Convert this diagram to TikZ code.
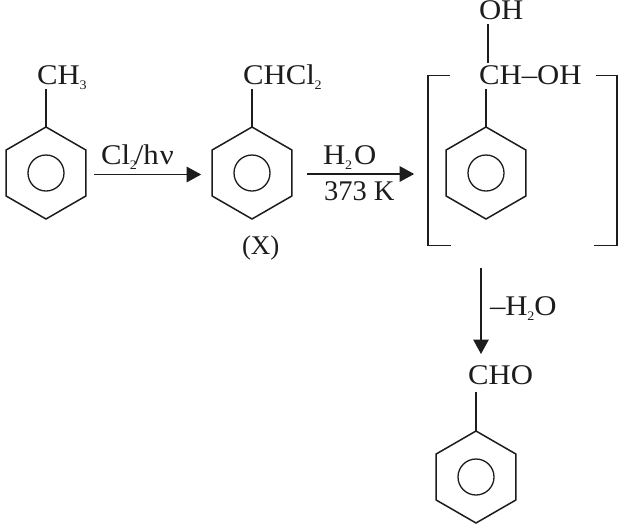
\documentclass[tikz,border=0pt]{standalone}
\usepackage{fontspec}
\setmainfont[FakeStretch=1.08]{Liberation Serif}
\newfontfamily\plainserif{Liberation Serif}
\usetikzlibrary{shapes.geometric,arrows.meta}
\definecolor{ink}{HTML}{1C1C1C}
\newcommand{\sbt}[1]{\kern-0.2pt\raisebox{-5.5pt}{\fontsize{13}{13}\selectfont #1}}
\tikzset{
  x=1pt,y=-1pt,
  ringhex/.style={regular polygon,regular polygon sides=6,shape border rotate=30,minimum size=92pt,inner sep=0pt,outer sep=0pt,draw=ink,line width=1.5pt},
  ringcirc/.style={circle,minimum size=36pt,inner sep=0pt,draw=ink,line width=1.3pt},
  chem/.style={anchor=base west,inner sep=0pt,outer sep=0pt,text=ink,text height=21pt,text depth=5pt,font=\fontsize{28.5}{30}\selectfont},
  bond/.style={draw=ink,line width=1.5pt},
  rxn/.style={draw=ink,line width=1.4pt,-{Triangle[length=14.5pt,width=15.5pt]}},
  brk/.style={draw=ink,line width=1.5pt}
}
\begin{document}
\begin{tikzpicture}
\useasboundingbox[fill=white,draw=none] (0,0) rectangle (629,523);
% rings
\node[ringhex] (r1) at (46,173) {};
\node[ringcirc] (c1) at (46,173) {};
\node[ringhex] (r2) at (252,173) {};
\node[ringcirc] (c2) at (252,173) {};
\node[ringhex] (r3) at (486,173) {};
\node[ringcirc] (c3) at (486,173) {};
\node[ringhex] (r4) at (476,477) {};
\node[ringcirc] (c4) at (476,477) {};
% labels
\node[chem] (ch3) at (37,84) {CH\sbt{3}};
\node[chem] (chcl) at (243,84) {CHCl\sbt{2}};
\node[chem] (x) at (242,254) {\plainserif\fontsize{27}{29}\selectfont(X)};
\node[chem] (cl) at (101,164) {Cl\sbt{2}\kern-2pt/h\kern1ptν};
\node[chem] (h2o) at (323,164) {H\sbt{2}\kern2ptO};
\node[chem] (k) at (324,200) {\plainserif 373 K};
\node[chem,text height=18pt] (oh) at (479,19) {OH};
\node[chem] (choh) at (479,84) {CH–OH};
\node[chem] (mh2o) at (490,315) {–H\sbt{2}O};
\node[chem] (cho) at (468,384) {CHO};
% bonds
\draw[bond] (r1.corner 1) -- (r1.corner 1 |- ch3.south);
\draw[bond] (r2.corner 1) -- (r2.corner 1 |- chcl.south);
\draw[bond] (r3.corner 1) -- (r3.corner 1 |- choh.south);
\draw[bond] ([xshift=2pt]r3.corner 1 |- choh.north) -- ([xshift=2pt]r3.corner 1 |- oh.south);
\draw[bond,shorten >=3pt] (r4.corner 1) -- (r4.corner 1 |- cho.south);
% arrows
\draw[rxn] ([shift={(8pt,-1.5pt)}]r1.east) -- ([shift={(-11pt,-1.5pt)}]r2.west);
\draw[rxn] ([shift={(15pt,-1pt)}]r2.east) -- ([shift={(-32pt,-1pt)}]r3.west);
\coordinate (a3s) at (481,268);
\draw[rxn] (a3s) -- ([yshift=9pt]a3s |- cho.north);
% brackets
\coordinate (bl1) at (450,75.5);
\coordinate (bl2) at (428,75.5);
\coordinate (bl3) at (428,245.5);
\coordinate (bl4) at (451,245.5);
\coordinate (br1) at (596,75.5);
\coordinate (br2) at (617,75.5);
\coordinate (br3) at (617,245.5);
\coordinate (br4) at (594,245.5);
\draw[brk] (bl1) -- (bl2) -- (bl3) -- (bl4);
\draw[brk] (br1) -- (br2) -- (br3) -- (br4);
\end{tikzpicture}
\end{document}
